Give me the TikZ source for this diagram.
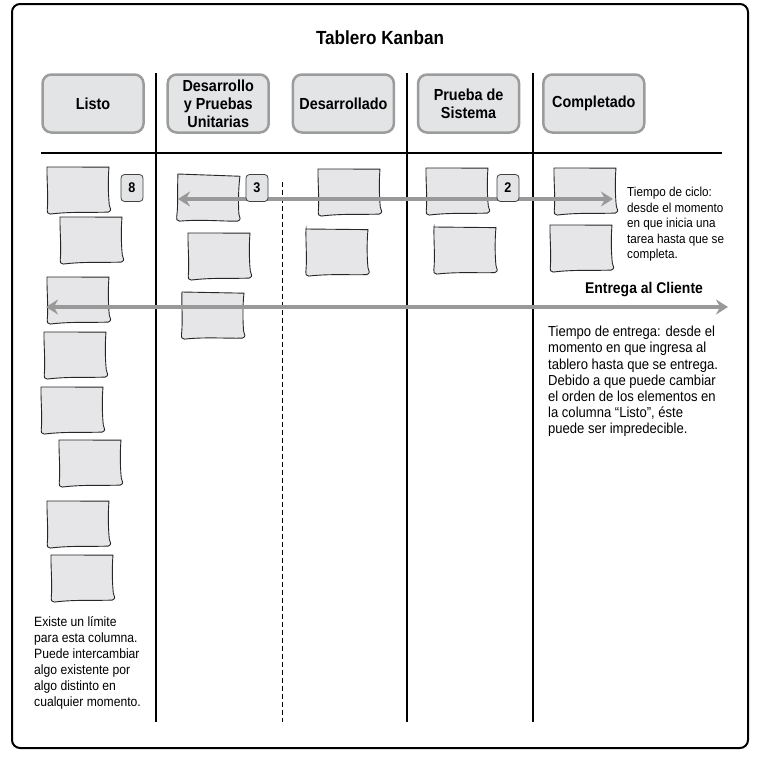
\documentclass[tikz,border=0pt]{standalone}
\usepackage{fontspec}
\setmainfont{Liberation Sans}[FakeStretch=0.9]
\usetikzlibrary{arrows.meta}

\begin{document}
\begin{tikzpicture}[x=1pt,y=-1pt,
  colhead/.style={draw=headline,fill=headfill,line width=2.5pt,rounded corners=9pt,minimum width=101,minimum height=58,align=center,font=\fontsize{16}{18}\selectfont\bfseries},
  wiplimit/.style={draw=black!75,fill=headfill,line width=0.8pt,rounded corners=3.5pt,minimum width=22,minimum height=27,inner sep=0,font=\fontsize{14}{16}\selectfont\bfseries},
  card/.style={draw=black!85,fill=cardfill,line width=0.9pt},
  span/.style={draw=arrowgray,line width=3.5pt,{Stealth[length=12pt,width=15pt,inset=4pt]}-{Stealth[length=12pt,width=15pt,inset=4pt]}},
  note/.style={inner sep=0,anchor=north west,align=left}]
\definecolor{headfill}{HTML}{E3E4E6}
\definecolor{headline}{HTML}{9C9C9C}
\definecolor{cardfill}{HTML}{E6E6E8}
\definecolor{arrowgray}{HTML}{999999}
\useasboundingbox (0,0) rectangle (764,758);
\draw[line width=2pt,rounded corners=8pt] (12,4) rectangle (748,748);
\node (title) at (380,38) {\fontsize{19}{22}\selectfont\bfseries Tablero Kanban};
% columns
  \foreach \name/\txt/\pos in {listo/Listo/0,dpu/Desarrollo\\y Pruebas\\Unitarias/1,desa/Desarrollado/2,prueba/Prueba de\\Sistema/3,comp/Completado/4}
  {  \node [colhead] (\name) at (93+125.2*\pos,103.5) {\txt};}
\draw[line width=1.1pt] (41,153) -- (722,153);
  \foreach \xx in {156,407,533}
  {  \draw[line width=1.1pt] (\xx,73) -- (\xx,722);}
\draw[line width=1pt,dash pattern=on 5pt off 3pt] (282,182) -- (282,722);
% cards
  \foreach \x/\y/\r in {47/166/-1,60/216/-1,47/276/-1,44/331/-1,41/386/-1,59/439/-1,47/500/-1,51/554/-1,
    178/173/-3,188/232/-1,182/291/-2,318/168/-1,306/228/-1.5,426/167/-1,434/226/-1.5,554/167/-1,550/224/-1}
  {  \draw [card,shift={(\x,\y)},rotate=\r] (0,1) -- (62,0) .. controls (61,15) and (62,30) .. (63,38)
       .. controls (64,42) and (66,43) .. (62,45) .. controls (45,46) and (25,45) .. (4,48)
       .. controls (1,48) and (1,46) .. (1,44) .. controls (2,30) and (0,15) .. cycle;}
% flow arrows
\coordinate (cycle-a) at (178,199);
\coordinate (cycle-b) at (613,199);
\coordinate (lead-a) at (46,307);
\coordinate (lead-b) at (728,307);
\draw[span] (cycle-a) -- (cycle-b);
\draw[span] (lead-a) -- (lead-b);
% WIP limits
  \foreach \name/\num/\xx in {lim8/8/132,lim3/3/257,lim2/2/508}
  {  \node [wiplimit] (\name) at (\xx,188) {\num};}
% notes
\node[note,font=\fontsize{13}{15.5}\selectfont] (ciclo) at (627,187) {Tiempo de ciclo:\\desde el momento\\en que inicia una\\tarea hasta que se\\completa.};
\node[font=\fontsize{15.5}{18}\selectfont\bfseries] (cliente) at (644,290) {Entrega al Cliente};
\node[note,font=\fontsize{14.5}{16.2}\selectfont] (entrega) at (548,326) {Tiempo de entrega: desde el\\momento en que ingresa al\\tablero hasta que se entrega.\\Debido a que puede cambiar\\el orden de los elementos en\\la columna “Listo”, éste\\puede ser impredecible.};
\node[note,font=\fontsize{13.5}{16}\selectfont] (limite) at (34,616) {Existe un límite\\para esta columna.\\Puede intercambiar\\algo existente por\\algo distinto en\\cualquier momento.};
\end{tikzpicture}
\end{document}
